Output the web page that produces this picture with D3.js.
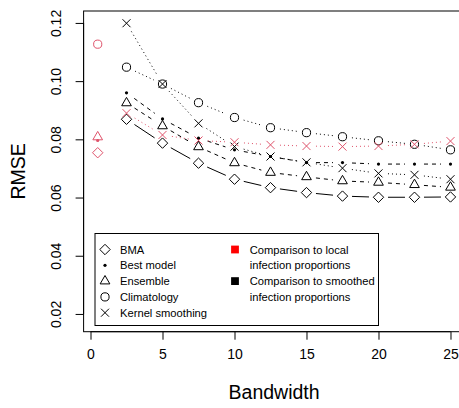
<!DOCTYPE html>
<html><head><meta charset="utf-8">
<script src="https://cdn.jsdelivr.net/npm/d3@7"></script>
<style>
html,body{margin:0;padding:0;background:#fff;}
svg{display:block;font-family:"Liberation Sans",Arial,Helvetica,sans-serif;}
</style></head>
<body><svg id="c" width="459" height="408"></svg>
<script>
// ---- data ----
const bandwidths = [2.5, 5, 7.5, 10, 12.5, 15, 17.5, 20, 22.5, 25];
const bma        = [0.0869, 0.0787, 0.0718, 0.0663, 0.0634, 0.0617, 0.0605, 0.0601, 0.0601, 0.0602];
const bestModel  = [0.0960, 0.0870, 0.0804, 0.0764, 0.0741, 0.0720, 0.0720, 0.0715, 0.0715, 0.0715];
const ensemble   = [0.0925, 0.0846, 0.0774, 0.0719, 0.0686, 0.0671, 0.0657, 0.0652, 0.0644, 0.0635];
const climatology= [0.1048, 0.0990, 0.0926, 0.0875, 0.0840, 0.0823, 0.0809, 0.0795, 0.0783, 0.0764];
const kernelSmoothed = [0.1199, 0.0990, 0.0855, 0.0775, 0.0741, 0.0721, 0.0701, 0.0683, 0.0678, 0.0663];
const kernelLocal    = [0.0890, 0.0815, 0.0796, 0.0790, 0.0781, 0.0777, 0.0775, 0.0777, 0.0783, 0.0794];
const localBandwidth = 0.5;
const localMethods = ["BMA", "Best model", "Ensemble", "Climatology"];
const localValues  = [0.0754, 0.0796, 0.0808, 0.1127];
const xTicks = [0, 5, 10, 15, 20, 25];
const yTicks = [0.02, 0.04, 0.06, 0.08, 0.10, 0.12];
const legendMethods = ["BMA", "Best model", "Ensemble", "Climatology", "Kernel smoothing"];
const legendCompare = [["Comparison to local", "infection proportions"], ["Comparison to smoothed", "infection proportions"]];

// ---- layout ----
const RED = "#DF536B";
const svg = d3.select("#c");
const L = 83.6, R = 464.6, T = 11, B = 331.7;
const x = d3.scaleLinear().domain([-0.48, 25.98]).range([L, R]);
const y = d3.scaleLinear().domain([0.0139, 0.1241]).range([B, T]);

// frame
svg.append("rect").attr("x", L).attr("y", T).attr("width", R - L).attr("height", B - T)
  .attr("fill", "none").attr("stroke", "#000").attr("stroke-width", 1);

// axes
const xa = svg.append("g").attr("transform", `translate(0,${B})`)
  .call(d3.axisBottom(x).tickValues(xTicks).tickSize(8).tickPadding(9).tickFormat(d3.format("d")));
xa.select(".domain").attr("d", `M${x(0)},0H${x(25)}`).attr("stroke", "#000");
xa.selectAll("text").attr("font-size", 14).attr("fill", "#000").attr("font-family", "Liberation Sans, Arial, sans-serif");

const ya = svg.append("g").attr("transform", `translate(${L},0)`)
  .call(d3.axisLeft(y).tickValues(yTicks).tickSize(8).tickFormat(d3.format(".2f")));
ya.select(".domain").attr("d", `M0,${y(0.02)}V${y(0.12)}`).attr("stroke", "#000");
ya.selectAll("text").attr("font-size", 14).attr("fill", "#000")
  .attr("font-family", "Liberation Sans, Arial, sans-serif")
  .attr("text-anchor", "middle").attr("dy", null).attr("x", null)
  .attr("transform", d => `translate(-23,${y(d) - y(d)}) rotate(-90)`)
  .attr("y", 0);
ya.selectAll(".tick text").each(function(){
  d3.select(this).attr("transform", "translate(-23,0) rotate(-90)");
});

svg.append("text").attr("x", (L + R) / 2).attr("y", 399).attr("text-anchor", "middle")
  .attr("font-size", 19.5).text("Bandwidth");
svg.append("text").attr("transform", `translate(25,${(T + B) / 2}) rotate(-90)`)
  .attr("text-anchor", "middle").attr("font-size", 19.5).text("RMSE");

// ---- marker symbols ----
function drawMarker(g, type, cx, cy, color) {
  const s = g.append("g").attr("transform", `translate(${cx},${cy})`);
  const common = el => el.attr("fill", "none").attr("stroke", color).attr("stroke-width", 1);
  if (type === "diamond") {
    common(s.append("path").attr("d", "M0,-5.2L5.2,0L0,5.2L-5.2,0Z"));
  } else if (type === "dot") {
    s.append("circle").attr("r", 1.6).attr("fill", color);
  } else if (type === "triangle") {
    const r = 5.6, xc = r * Math.sqrt(3) / 2, yc = r / 2;
    common(s.append("path").attr("d", `M0,${-r}L${xc},${yc}L${-xc},${yc}Z`));
  } else if (type === "circle") {
    common(s.append("circle").attr("r", 4.1));
  } else if (type === "cross") {
    common(s.append("path").attr("d", "M-4,-4L4,4M-4,4L4,-4"));
  }
}

// type="b" lines: segments with gaps around points
function drawBLine(xs, ys, color, dash) {
  const gap = 9.5;
  const g = svg.append("g");
  for (let i = 0; i < xs.length - 1; i++) {
    const x0 = x(xs[i]), y0 = y(ys[i]), x1 = x(xs[i + 1]), y1 = y(ys[i + 1]);
    const dx = x1 - x0, dy = y1 - y0, len = Math.hypot(dx, dy);
    if (len <= 2 * gap) continue;
    const ux = dx / len, uy = dy / len;
    g.append("line")
      .attr("x1", x0 + ux * gap).attr("y1", y0 + uy * gap)
      .attr("x2", x1 - ux * gap).attr("y2", y1 - uy * gap)
      .attr("stroke", color).attr("stroke-width", 1)
      .attr("stroke-dasharray", dash);
  }
}

const series = [
  {vals: bma, type: "diamond", dash: null, color: "#000"},
  {vals: bestModel, type: "dot", dash: "4,4", color: "#000"},
  {vals: ensemble, type: "triangle", dash: "4,4", color: "#000"},
  {vals: climatology, type: "circle", dash: "1,3", color: "#000"},
  {vals: kernelSmoothed, type: "cross", dash: "1,3", color: "#000"},
  {vals: kernelLocal, type: "cross", dash: "1,3", color: RED}
];
series.forEach(s => drawBLine(bandwidths, s.vals, s.color, s.dash));
const mg = svg.append("g");
series.forEach(s => bandwidths.forEach((b, i) => drawMarker(mg, s.type, x(b), y(s.vals[i]), s.color)));

const localTypes = ["diamond", "dot", "triangle", "circle"];
localValues.forEach((v, i) => drawMarker(mg, localTypes[i], x(localBandwidth), y(v), RED));

// ---- legend ----
const lg = svg.append("g");
lg.append("rect").attr("x", 95).attr("y", 233.5).attr("width", 283.5).attr("height", 92)
  .attr("fill", "#fff").attr("stroke", "#000").attr("stroke-width", 1);
const rowY = i => 249.5 + i * 15.8;
const lTypes = ["diamond", "dot", "triangle", "circle", "cross"];
legendMethods.forEach((t, i) => {
  drawMarker(lg, lTypes[i], 105, rowY(i), "#000");
  lg.append("text").attr("x", 120).attr("y", rowY(i)).attr("dy", "0.36em")
    .attr("font-size", 11.2).text(t);
});
const sqColors = ["#FF0000", "#000000"];
legendCompare.forEach((lines, j) => {
  const r0 = j * 2;
  lg.append("rect").attr("x", 235 - 3.9).attr("y", rowY(r0) - 3.9).attr("width", 7.8).attr("height", 7.8)
    .attr("fill", sqColors[j]);
  lines.forEach((t, k) => {
    lg.append("text").attr("x", 249.7).attr("y", rowY(r0 + k)).attr("dy", "0.36em")
      .attr("font-size", 11.2).text(t);
  });
});
</script></body></html>
